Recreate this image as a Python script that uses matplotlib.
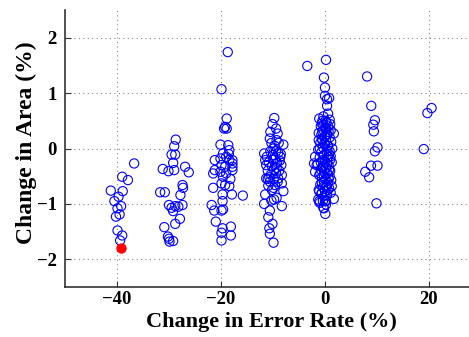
import matplotlib
matplotlib.use("Agg")
import matplotlib.pyplot as plt

# ---- data (Change in Error Rate %, Change in Area %) ----
cluster_m40 = [(-36.7, -0.27), (-39.0, -0.51), (-37.9, -0.57), (-41.2, -0.76), (-38.9, -0.77),
               (-39.7, -0.87), (-40.5, -0.95), (-39.2, -1.04), (-39.9, -1.08), (-39.5, -1.19),
               (-40.2, -1.23), (-39.9, -1.48), (-39.0, -1.57), (-39.4, -1.66)]
cluster_m30 = [(-28.7, 0.16), (-29.0, 0.04), (-29.5, -0.11), (-28.8, -0.11), (-29.2, -0.26),
               (-31.2, -0.37), (-30.1, -0.41), (-29.0, -0.39), (-26.9, -0.33), (-26.2, -0.43),
               (-31.7, -0.79), (-30.8, -0.79), (-27.4, -0.66), (-27.3, -0.71), (-27.8, -0.84),
               (-30.0, -1.02), (-29.5, -1.07), (-28.8, -1.04), (-29.2, -1.13), (-28.2, -1.05),
               (-27.4, -1.02), (-27.9, -1.27), (-28.8, -1.36), (-30.9, -1.42), (-30.2, -1.59),
               (-30.0, -1.63), (-29.9, -1.68), (-29.2, -1.67)]
cluster_m20 = [(-18.7, 1.74), (-19.9, 1.07), (-18.9, 0.54), (-19.2, 0.39), (-18.9, 0.36),
               (-19.4, 0.36), (-20.1, 0.07), (-18.6, 0.06), (-18.4, -0.03), (-19.6, -0.09),
               (-21.2, -0.21), (-20.1, -0.18), (-19.0, -0.15), (-17.8, -0.21), (-17.8, -0.27),
               (-17.8, -0.33), (-17.8, -0.39), (-18.4, -0.21), (-19.9, -0.30), (-19.2, -0.33),
               (-21.2, -0.39), (-21.5, -0.45), (-20.1, -0.42), (-19.6, -0.51), (-19.9, -0.63),
               (-19.2, -0.66), (-18.4, -0.68), (-21.5, -0.71), (-19.7, -0.83), (-17.9, -0.83),
               (-15.8, -0.85), (-19.7, -0.95), (-21.8, -1.02), (-21.3, -1.12), (-19.9, -1.12),
               (-19.6, -1.10), (-21.0, -1.32), (-19.7, -1.44), (-18.1, -1.41), (-19.9, -1.52),
               (-18.1, -1.57), (-19.9, -1.66), (-18.5, -0.10), (-19.0, -0.45), (-18.2, -0.55)]
cluster_m10 = [(-9.75, 0.55), (-10.1, 0.44), (-9.4, 0.36), (-9.1, 0.27), (-10.6, 0.18),
               (-9.3, 0.15), (-8.0, 0.07), (-9.9, 0.0), (-9.4, -0.05), (-11.7, -0.09),
               (-11.2, -0.15), (-11.5, -0.21), (-11.3, -0.54), (-10.7, -0.52), (-9.0, -0.54),
               (-8.3, -0.63), (-10.9, -0.67), (-9.9, -0.71), (-8.0, -0.77), (-11.5, -0.83),
               (-9.3, -0.89), (-10.3, -0.94), (-9.8, -0.92), (-11.7, -1.0), (-8.3, -1.04),
               (-10.6, -1.12), (-10.9, -1.24), (-10.1, -1.36), (-10.7, -1.44), (-10.6, -1.54),
               (-9.9, -1.70), (-10.5, -0.05), (-9.0, -0.08), (-10.0, -0.12), (-8.6, -0.15),
               (-9.6, -0.18), (-10.8, -0.25), (-9.2, -0.26), (-8.4, -0.30), (-10.2, -0.32),
               (-9.8, -0.38), (-11.0, -0.40), (-8.8, -0.40), (-9.4, -0.45), (-10.4, -0.47),
               (-8.3, -0.48), (-9.9, -0.55), (-10.6, -0.60), (-9.1, -0.60), (-9.6, -0.66),
               (-10.0, -0.20), (-9.3, -0.35), (-11.3, -0.30), (-8.7, -0.22), (-9.7, 0.05),
               (-10.3, 0.10), (-8.9, 0.10), (-10.2, -0.75), (-9.5, -0.28), (-10.5, 0.30),
               (-8.5, -0.10), (-11.0, -0.55)]
cluster_0 = [(0.2, 1.60), (-0.2, 1.28), (0.0, 1.10), (0.0, 0.95), (0.8, 0.91), (0.4, 0.89),
             (0.4, 0.77), (0.6, 0.63), (-1.1, 0.54), (-0.5, 0.50), (0.3, 0.47), (1.0, 0.44),
             (-0.8, 0.40), (0.1, 0.38), (-0.3, 0.33), (0.7, 0.30), (-1.2, 0.28), (0.5, 0.25),
             (-0.1, 0.22), (0.9, 0.20), (-0.6, 0.17), (0.2, 0.14), (1.2, 0.12), (-0.9, 0.10),
             (0.0, 0.07), (0.6, 0.05), (-0.4, 0.02), (1.4, 0.00), (-1.3, -0.02), (0.3, -0.05),
             (-0.7, -0.07), (0.8, -0.10), (-0.2, -0.12), (1.1, -0.14), (-1.0, -0.16), (0.4, -0.18),
             (-0.5, -0.21), (0.0, -0.23), (1.3, -0.25), (-1.4, -0.28), (0.7, -0.30), (-0.3, -0.33),
             (0.2, -0.35), (-0.8, -0.38), (1.0, -0.40), (-0.1, -0.43), (0.5, -0.45), (-1.1, -0.48),
             (0.9, -0.50), (-0.6, -0.52), (0.1, -0.55), (1.2, -0.57), (-0.2, -0.60), (0.6, -0.62),
             (-0.9, -0.65), (0.3, -0.67), (-0.4, -0.70), (0.8, -0.72), (-1.2, -0.75), (0.0, -0.77),
             (1.1, -0.80), (-0.7, -0.82), (0.4, -0.84), (-0.3, 0.58), (0.9, 0.52), (-0.6, 0.45),
             (0.2, 0.35), (-0.5, 0.15), (0.6, -0.15), (1.7, 0.27), (1.3, -0.68), (1.7, -0.91),
             (0.0, -0.95), (0.2, -1.01), (-0.2, -1.08), (0.06, -1.18), (-0.6, -0.80), (-2.1, -0.27),
             (-1.9, -0.42), (-1.1, -0.77), (-1.1, -0.95), (-0.4, -0.95), (0.2, -0.95), (-0.3, -1.07),
             (-1.9, -0.15), (-1.6, -0.30), (-1.3, -0.92), (-1.0, -0.98), (-3.4, 1.49),
             (0.5, 0.05), (-0.4, -0.35), (0.7, -0.55), (-0.8, -0.25), (0.3, 0.25), (-0.2, -0.50),
             (1.0, -0.20), (-1.0, 0.00), (0.5, -0.75), (-0.5, 0.30), (0.1, 0.50), (-0.1, 0.10),
             (0.4, -0.28), (-0.6, -0.62), (0.9, -0.05), (-0.9, -0.45), (0.2, -0.70), (-0.3, 0.42),
             (1.1, 0.33), (-1.2, 0.15), (0.6, 0.40), (-0.1, -0.85), (0.8, -0.38), (-0.7, 0.25)]
cluster_p10 = [(8.1, 1.30), (8.9, 0.77), (9.6, 0.51), (9.3, 0.43), (9.4, 0.31), (10.1, 0.02),
               (9.6, -0.05), (8.85, -0.31), (10.1, -0.31), (7.75, -0.42), (8.5, -0.52), (9.9, -0.99)]
cluster_p20 = [(19.0, -0.01), (19.7, 0.64), (20.5, 0.73)]
highlight = [(-39.3, -1.79)]

x_ticks = [-40, -20, 0, 20]
y_ticks = [-2, -1, 0, 1, 2]
x_label = "Change in Error Rate (%)"
y_label = "Change in Area (%)"

points = cluster_m40 + cluster_m30 + cluster_m20 + cluster_m10 + cluster_0 + cluster_p10 + cluster_p20
xs = [p[0] for p in points]
ys = [p[1] for p in points]

plt.rcParams['font.family'] = ['Liberation Serif', 'DejaVu Serif']
fig = plt.figure(figsize=(4.69, 3.37), dpi=100)
ax = fig.add_axes([65 / 469, 50 / 337, 404 / 469, 277 / 337])

ax.scatter(xs, ys, s=44, facecolors='none', edgecolors='#0000ff', linewidths=0.8, zorder=3)
ax.scatter([p[0] for p in highlight], [p[1] for p in highlight], s=44,
           facecolors='#ff0000', edgecolors='#ff0000', linewidths=0.8, zorder=4)

ax.set_xlim(-50, 27.7)
ax.set_ylim(-2.5, 2.5)
ax.set_xticks(x_ticks)
ax.set_yticks(y_ticks)
ax.grid(True, linestyle=(0, (1, 3)), color='#888888', linewidth=0.8)
ax.set_axisbelow(True)
ax.tick_params(direction='in', length=4, width=0.8, labelsize=13.5, color='#333333')
ax.tick_params(axis='x', pad=3)
ax.tick_params(axis='y', pad=6)
for lab in ax.get_xticklabels() + ax.get_yticklabels():
    lab.set_fontweight('bold')
ax.spines['top'].set_visible(False)
ax.spines['right'].set_visible(False)
for s in ('left', 'bottom'):
    ax.spines[s].set_linewidth(1.2)
    ax.spines[s].set_color('#333333')

ax.set_xlabel(x_label, fontsize=16, fontweight='bold')
ax.set_ylabel(y_label, fontsize=17, fontweight='bold')
ax.xaxis.set_label_coords(0.512, -0.092)
ax.yaxis.set_label_coords(-0.07, 0.52)

fig.savefig('out.png', dpi=100)
